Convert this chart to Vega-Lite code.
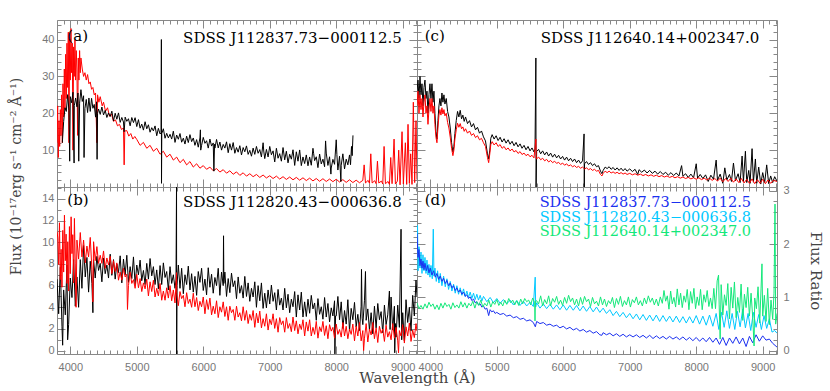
{
"$schema": "https://vega.github.io/schema/vega-lite/v6.json",
"padding": {"left": 8, "top": 18, "right": 4, "bottom": 4},
"background": "white",
"config": {
 "view": {"stroke": "#888", "strokeWidth": 1},
 "axis": {"domain": false, "grid": false, "tickColor": "#888", "tickWidth": 1, "labelColor": "#777", "labelFont": "Liberation Sans", "labelFontSize": 11, "titleFont": "DejaVu Serif", "titleFontWeight": "normal", "titleFontSize": 14, "titleColor": "#444", "labelOverlap": false, "labelFlush": false, "labelBound": false},
 "text": {"font": "DejaVu Serif", "fontSize": 15}
},
"datasets": {
"ar": [{"w":3800,"f":12},{"w":3810,"f":22},{"w":3820,"f":8},{"w":3830,"f":18},{"w":3840,"f":11},{"w":3850,"f":21},{"w":3860,"f":14},{"w":3870,"f":25},{"w":3880,"f":12},{"w":3890,"f":28},{"w":3900,"f":19},{"w":3910,"f":32},{"w":3920,"f":21},{"w":3930,"f":36},{"w":3940,"f":24},{"w":3950,"f":39},{"w":3960,"f":27},{"w":3970,"f":42},{"w":3980,"f":12},{"w":3990,"f":40},{"w":4000,"f":29},{"w":4010,"f":43},{"w":4020,"f":31},{"w":4030,"f":39},{"w":4040,"f":10},{"w":4050,"f":38},{"w":4060,"f":30},{"w":4070,"f":40},{"w":4080,"f":29},{"w":4090,"f":37},{"w":4100,"f":32},{"w":4110,"f":14},{"w":4120,"f":35},{"w":4130,"f":29},{"w":4140,"f":37},{"w":4150,"f":31},{"w":4160,"f":35},{"w":4180,"f":32},{"w":4200,"f":30},{"w":4220,"f":31},{"w":4240,"f":29},{"w":4260,"f":30.5},{"w":4280,"f":28},{"w":4300,"f":28.5},{"w":4320,"f":26.5},{"w":4340,"f":27},{"w":4360,"f":25},{"w":4380,"f":25.5},{"w":4400,"f":12},{"w":4410,"f":25},{"w":4430,"f":23},{"w":4450,"f":24.5},{"w":4480,"f":22},{"w":4500,"f":23},{"w":4530,"f":20.5},{"w":4560,"f":21.5},{"w":4590,"f":19.2},{"w":4620,"f":19.8},{"w":4650,"f":17.8},{"w":4680,"f":18.2},{"w":4710,"f":16.6},{"w":4740,"f":17},{"w":4770,"f":15.6},{"w":4800,"f":16},{"w":4810,"f":6},{"w":4820,"f":15.2},{"w":4850,"f":15.3},{"w":4880,"f":13.8},{"w":4910,"f":14.5},{"w":4940,"f":13},{"w":4970,"f":13.7},{"w":5000,"f":12.9},{"w":5050,"f":11.3},{"w":5100,"f":12.1},{"w":5150,"f":10.5},{"w":5200,"f":11.3},{"w":5250,"f":9.7},{"w":5300,"f":10.5},{"w":5350,"f":8.9},{"w":5400,"f":9.7},{"w":5450,"f":8.1},{"w":5500,"f":8.9},{"w":5550,"f":7.3},{"w":5600,"f":8.1},{"w":5650,"f":6.6},{"w":5700,"f":7.5},{"w":5750,"f":6.0},{"w":5800,"f":6.9},{"w":5850,"f":5.4},{"w":5900,"f":6.3},{"w":5950,"f":5.1},{"w":6000,"f":5.8},{"w":6050,"f":4.8},{"w":6100,"f":5.4},{"w":6150,"f":4.4},{"w":6200,"f":5.0},{"w":6250,"f":4.05},{"w":6300,"f":4.7},{"w":6350,"f":3.75},{"w":6400,"f":4.4},{"w":6450,"f":3.45},{"w":6500,"f":4.1},{"w":6550,"f":3.15},{"w":6600,"f":3.85},{"w":6650,"f":2.95},{"w":6700,"f":3.6},{"w":6750,"f":2.8},{"w":6800,"f":3.4},{"w":6850,"f":2.6},{"w":6900,"f":3.25},{"w":6950,"f":2.45},{"w":7000,"f":3.05},{"w":7050,"f":2.3},{"w":7100,"f":2.95},{"w":7150,"f":2.15},{"w":7200,"f":2.8},{"w":7250,"f":2.05},{"w":7300,"f":2.7},{"w":7350,"f":1.95},{"w":7400,"f":2.6},{"w":7450,"f":1.85},{"w":7500,"f":2.5},{"w":7550,"f":1.75},{"w":7600,"f":2.4},{"w":7650,"f":1.65},{"w":7700,"f":2.3},{"w":7750,"f":1.55},{"w":7800,"f":2.25},{"w":7850,"f":1.5},{"w":7900,"f":2.15},{"w":7950,"f":1.45},{"w":8000,"f":2.1},{"w":8050,"f":1.35},{"w":8100,"f":2.0},{"w":8150,"f":1.25},{"w":8200,"f":1.95},{"w":8250,"f":1.2},{"w":8300,"f":1.85},{"w":8350,"f":1.15},{"w":8400,"f":1.8},{"w":8420,"f":6},{"w":8440,"f":1.1},{"w":8480,"f":1.8},{"w":8500,"f":1.0},{"w":8520,"f":9},{"w":8540,"f":1.1},{"w":8580,"f":1.7},{"w":8600,"f":0.9},{"w":8620,"f":7},{"w":8640,"f":1.1},{"w":8680,"f":1.6},{"w":8700,"f":0.8},{"w":8720,"f":11},{"w":8740,"f":0.9},{"w":8780,"f":1.5},{"w":8800,"f":0.7},{"w":8820,"f":8},{"w":8840,"f":0.9},{"w":8870,"f":13},{"w":8890,"f":0.8},{"w":8920,"f":1.6},{"w":8940,"f":10},{"w":8960,"f":0.6},{"w":8990,"f":15},{"w":9010,"f":0.8},{"w":9040,"f":12},{"w":9060,"f":0.7},{"w":9080,"f":17},{"w":9100,"f":1},{"w":9120,"f":9},{"w":9140,"f":0.7},{"w":9160,"f":23},{"w":9180,"f":1.2},{"w":9200,"f":18},{"w":9215,"f":2}],
"ak": [{"w":3880,"f":12},{"w":3900,"f":17.75},{"w":3920,"f":21.5},{"w":3940,"f":20.5},{"w":3960,"f":25.05},{"w":3980,"f":20.7},{"w":3991,"f":7},{"w":4000,"f":24.5},{"w":4020,"f":22.85},{"w":4040,"f":25.7},{"w":4057,"f":6.5},{"w":4060,"f":22.05},{"w":4080,"f":24.15},{"w":4100,"f":21.75},{"w":4115,"f":25.5},{"w":4127,"f":7},{"w":4140,"f":22.75},{"w":4160,"f":26.4},{"w":4180,"f":23.2},{"w":4200,"f":24.75},{"w":4207,"f":8},{"w":4220,"f":21.3},{"w":4240,"f":23.75},{"w":4260,"f":20.2},{"w":4280,"f":24.15},{"w":4300,"f":20.5},{"w":4320,"f":24.05},{"w":4340,"f":21.35},{"w":4360,"f":22.4},{"w":4380,"f":18.95},{"w":4395,"f":23.1},{"w":4403,"f":7.5},{"w":4410,"f":20},{"w":4425,"f":21.16},{"w":4450,"f":19.7},{"w":4475,"f":21.7},{"w":4500,"f":19.55},{"w":4525,"f":20.78},{"w":4550,"f":18.86},{"w":4575,"f":20.09},{"w":4600,"f":19.11},{"w":4625,"f":20.57},{"w":4650,"f":17.9},{"w":4675,"f":20.01},{"w":4700,"f":18.38},{"w":4725,"f":20.1},{"w":4750,"f":17.53},{"w":4775,"f":18.86},{"w":4800,"f":17.62},{"w":4810,"f":15},{"w":4825,"f":18.95},{"w":4850,"f":17.81},{"w":4875,"f":18.52},{"w":4900,"f":16.6},{"w":4925,"f":18.84},{"w":4950,"f":17.47},{"w":4975,"f":18.8},{"w":5000,"f":16.39},{"w":5025,"f":18.27},{"w":5050,"f":15.96},{"w":5075,"f":17.06},{"w":5100,"f":15.43},{"w":5125,"f":17.7},{"w":5150,"f":15.78},{"w":5175,"f":16.88},{"w":5200,"f":14.86},{"w":5225,"f":16.09},{"w":5250,"f":15.21},{"w":5275,"f":16.57},{"w":5300,"f":13.9},{"w":5325,"f":15.91},{"w":5350,"f":14.38},{"w":5365,"f":14.7},{"w":5370,"f":40},{"w":5372,"f":1},{"w":5376,"f":14.5},{"w":5400,"f":15.8},{"w":5425,"f":13.23},{"w":5450,"f":14.56},{"w":5475,"f":13.32},{"w":5500,"f":14.3},{"w":5525,"f":13.0},{"w":5550,"f":15.15},{"w":5575,"f":12.1},{"w":5600,"f":14.1},{"w":5625,"f":12.95},{"w":5650,"f":14.5},{"w":5675,"f":12.15},{"w":5700,"f":13.25},{"w":5725,"f":11.65},{"w":5750,"f":13.8},{"w":5775,"f":12.05},{"w":5800,"f":14.2},{"w":5825,"f":12.3},{"w":5850,"f":13.3},{"w":5875,"f":11.3},{"w":5900,"f":12.85},{"w":5925,"f":10.8},{"w":5950,"f":13.3},{"w":5957,"f":15.5},{"w":5962,"f":10},{"w":5975,"f":11.3},{"w":6000,"f":13.45},{"w":6025,"f":11.85},{"w":6050,"f":12.55},{"w":6075,"f":10.55},{"w":6100,"f":13.0},{"w":6125,"f":11.1},{"w":6150,"f":11.95},{"w":6160,"f":4.3},{"w":6170,"f":11.6},{"w":6175,"f":10.55},{"w":6200,"f":12.9},{"w":6225,"f":10.6},{"w":6250,"f":12.2},{"w":6275,"f":10.0},{"w":6300,"f":11.55},{"w":6325,"f":10.55},{"w":6350,"f":12.25},{"w":6375,"f":9.3},{"w":6400,"f":11.75},{"w":6425,"f":10.0},{"w":6450,"f":12.05},{"w":6475,"f":9.15},{"w":6500,"f":10.7},{"w":6525,"f":9.45},{"w":6550,"f":11.2},{"w":6575,"f":8.7},{"w":6600,"f":10.7},{"w":6625,"f":9.55},{"w":6650,"f":11.15},{"w":6675,"f":8.85},{"w":6700,"f":9.95},{"w":6725,"f":8.35},{"w":6750,"f":10.55},{"w":6775,"f":8.85},{"w":6800,"f":11.0},{"w":6825,"f":9.15},{"w":6850,"f":10.15},{"w":6875,"f":8.15},{"w":6900,"f":12},{"w":6910,"f":9.75},{"w":6925,"f":7.7},{"w":6950,"f":10.2},{"w":6975,"f":8.15},{"w":7000,"f":11.0},{"w":7025,"f":8.75},{"w":7050,"f":9.8},{"w":7075,"f":6.8},{"w":7100,"f":10.5},{"w":7125,"f":7.8},{"w":7150,"f":9.05},{"w":7175,"f":7.0},{"w":7200,"f":10.7},{"w":7225,"f":7.35},{"w":7250,"f":9.7},{"w":7275,"f":6.55},{"w":7300,"f":8.9},{"w":7325,"f":7.55},{"w":7350,"f":10.1},{"w":7375,"f":5.85},{"w":7400,"f":9.55},{"w":7425,"f":7.0},{"w":7450,"f":10.05},{"w":7475,"f":5.8},{"w":7500,"f":8.15},{"w":7525,"f":6.35},{"w":7550,"f":8.7},{"w":7575,"f":5.75},{"w":7600,"f":8.15},{"w":7625,"f":5.9},{"w":7650,"f":10.5},{"w":7660,"f":9.15},{"w":7675,"f":7.15},{"w":7700,"f":8.2},{"w":7725,"f":5.25},{"w":7750,"f":8.95},{"w":7775,"f":6.25},{"w":7800,"f":7.55},{"w":7825,"f":5.5},{"w":7840,"f":12.5},{"w":7850,"f":9.2},{"w":7875,"f":5.85},{"w":7900,"f":8.2},{"w":7920,"f":3.5},{"w":7925,"f":5.15},{"w":7950,"f":7.5},{"w":7975,"f":6.15},{"w":8000,"f":12.8},{"w":8010,"f":8.8},{"w":8025,"f":4.6},{"w":8050,"f":8.35},{"w":8070,"f":1.5},{"w":8075,"f":5.9},{"w":8100,"f":9.0},{"w":8125,"f":4.9},{"w":8150,"f":7.55},{"w":8175,"f":6.0},{"w":8200,"f":8.7},{"w":8215,"f":6.05},{"w":8230,"f":11},{"w":8240,"f":8.5},{"w":8252,"f":14}],
"ck": [{"w":3800,"f":26},{"w":3815,"f":29},{"w":3830,"f":24},{"w":3845,"f":30},{"w":3860,"f":25},{"w":3875,"f":28},{"w":3890,"f":22},{"w":3905,"f":27},{"w":3920,"f":29},{"w":3935,"f":24},{"w":3950,"f":26},{"w":3965,"f":20},{"w":3980,"f":25},{"w":3995,"f":28},{"w":4010,"f":24},{"w":4025,"f":28},{"w":4040,"f":23},{"w":4055,"f":26},{"w":4070,"f":20},{"w":4085,"f":15},{"w":4100,"f":13},{"w":4115,"f":18},{"w":4130,"f":22},{"w":4145,"f":24},{"w":4160,"f":22},{"w":4175,"f":25.5},{"w":4190,"f":23},{"w":4205,"f":25},{"w":4220,"f":22.5},{"w":4240,"f":24},{"w":4260,"f":20.5},{"w":4280,"f":19},{"w":4300,"f":16},{"w":4320,"f":12},{"w":4340,"f":9.5},{"w":4355,"f":11},{"w":4370,"f":14.5},{"w":4390,"f":18},{"w":4410,"f":20.5},{"w":4430,"f":19},{"w":4450,"f":20.8},{"w":4470,"f":18.5},{"w":4490,"f":19.5},{"w":4510,"f":17.8},{"w":4530,"f":19},{"w":4560,"f":17.2},{"w":4590,"f":18},{"w":4620,"f":16.3},{"w":4650,"f":17.2},{"w":4680,"f":15.5},{"w":4710,"f":16.2},{"w":4740,"f":14.6},{"w":4770,"f":15.2},{"w":4800,"f":13.6},{"w":4830,"f":12.5},{"w":4860,"f":9},{"w":4878,"f":7.6},{"w":4895,"f":10},{"w":4910,"f":13.2},{"w":4930,"f":14.2},{"w":4960,"f":13},{"w":4990,"f":13.9},{"w":5020,"f":12.6},{"w":5050,"f":13.5},{"w":5080,"f":12.2},{"w":5110,"f":13.1},{"w":5140,"f":11.9},{"w":5170,"f":12.8},{"w":5200,"f":11.6},{"w":5230,"f":12.4},{"w":5260,"f":11.2},{"w":5290,"f":12.1},{"w":5320,"f":10.9},{"w":5350,"f":11.7},{"w":5380,"f":10.5},{"w":5410,"f":11.3},{"w":5440,"f":10.1},{"w":5470,"f":11},{"w":5500,"f":9.8},{"w":5530,"f":10.6},{"w":5560,"f":9.5},{"w":5575,"f":10.3},{"w":5588,"f":35},{"w":5591,"f":0},{"w":5600,"f":9.7},{"w":5630,"f":10.2},{"w":5660,"f":9},{"w":5690,"f":9.8},{"w":5720,"f":8.7},{"w":5750,"f":9.5},{"w":5780,"f":8.4},{"w":5810,"f":9.2},{"w":5840,"f":8.1},{"w":5870,"f":8.9},{"w":5900,"f":7.9},{"w":5930,"f":8.6},{"w":5960,"f":7.6},{"w":5990,"f":8.3},{"w":6020,"f":7.3},{"w":6050,"f":8.1},{"w":6080,"f":7.1},{"w":6110,"f":7.8},{"w":6140,"f":6.9},{"w":6170,"f":7.6},{"w":6200,"f":6.6},{"w":6230,"f":7.3},{"w":6260,"f":6.4},{"w":6290,"f":7.1},{"w":6313,"f":14.4},{"w":6316,"f":0},{"w":6320,"f":6.3},{"w":6350,"f":6.9},{"w":6380,"f":6.1},{"w":6410,"f":6.6},{"w":6440,"f":5.8},{"w":6470,"f":6.3},{"w":6500,"f":5.5},{"w":6530,"f":5.8},{"w":6560,"f":4.3},{"w":6582,"f":3.6},{"w":6600,"f":4.5},{"w":6630,"f":5.4},{"w":6660,"f":5.0},{"w":6690,"f":5.5},{"w":6720,"f":4.8},{"w":6750,"f":5.3},{"w":6780,"f":4.6},{"w":6810,"f":5.2},{"w":6840,"f":4.5},{"w":6870,"f":5.1},{"w":6900,"f":4.4},{"w":6930,"f":5.0},{"w":6960,"f":4.3},{"w":7000,"f":4.9},{"w":7040,"f":4.2},{"w":7080,"f":4.8},{"w":7120,"f":3.4},{"w":7140,"f":4.7},{"w":7180,"f":4.0},{"w":7220,"f":4.6},{"w":7260,"f":3.8},{"w":7300,"f":4.5},{"w":7340,"f":3.7},{"w":7380,"f":4.3},{"w":7420,"f":3.5},{"w":7460,"f":4.2},{"w":7500,"f":3.4},{"w":7540,"f":4.0},{"w":7580,"f":3.2},{"w":7620,"f":3.9},{"w":7660,"f":3.1},{"w":7700,"f":3.8},{"w":7740,"f":3.0},{"w":7780,"f":5.8},{"w":7800,"f":2.9},{"w":7840,"f":3.6},{"w":7880,"f":2.6},{"w":7920,"f":3.5},{"w":7960,"f":2.5},{"w":8000,"f":6.3},{"w":8020,"f":2.4},{"w":8060,"f":3.4},{"w":8100,"f":2.3},{"w":8140,"f":3.3},{"w":8180,"f":1.5},{"w":8220,"f":3.2},{"w":8260,"f":2.1},{"w":8300,"f":7.3},{"w":8320,"f":1.8},{"w":8360,"f":3.5},{"w":8400,"f":1.0},{"w":8430,"f":5.2},{"w":8460,"f":1.9},{"w":8500,"f":3.4},{"w":8530,"f":1.5},{"w":8560,"f":6.5},{"w":8590,"f":1.7},{"w":8630,"f":3.6},{"w":8660,"f":1.2},{"w":8690,"f":8.4},{"w":8710,"f":1.5},{"w":8740,"f":9.7},{"w":8760,"f":1.2},{"w":8790,"f":4.5},{"w":8810,"f":1.0},{"w":8840,"f":10.4},{"w":8860,"f":1.3},{"w":8890,"f":7.6},{"w":8910,"f":1.0},{"w":8940,"f":5.4},{"w":8970,"f":0.8},{"w":9000,"f":3.9},{"w":9030,"f":1.2},{"w":9060,"f":6.0},{"w":9090,"f":0.9},{"w":9120,"f":3.0},{"w":9150,"f":1.2},{"w":9180,"f":2.8},{"w":9215,"f":1.6}],
"cr": [{"w":3800,"f":22},{"w":3815,"f":26},{"w":3830,"f":20},{"w":3845,"f":25},{"w":3860,"f":21},{"w":3875,"f":24},{"w":3890,"f":19},{"w":3905,"f":23},{"w":3920,"f":25},{"w":3935,"f":20},{"w":3950,"f":22},{"w":3965,"f":17},{"w":3980,"f":21},{"w":3995,"f":24},{"w":4010,"f":20.5},{"w":4025,"f":24},{"w":4040,"f":20},{"w":4055,"f":22},{"w":4070,"f":17},{"w":4085,"f":13.5},{"w":4100,"f":12},{"w":4115,"f":16},{"w":4130,"f":19.5},{"w":4145,"f":21},{"w":4160,"f":19.5},{"w":4175,"f":21.5},{"w":4190,"f":19.8},{"w":4205,"f":21},{"w":4220,"f":19.3},{"w":4240,"f":20},{"w":4260,"f":17.5},{"w":4280,"f":16},{"w":4300,"f":13.5},{"w":4320,"f":10.5},{"w":4340,"f":8.5},{"w":4355,"f":10},{"w":4370,"f":13},{"w":4390,"f":15.5},{"w":4410,"f":17.3},{"w":4430,"f":16.2},{"w":4450,"f":17.2},{"w":4470,"f":15.8},{"w":4490,"f":16.3},{"w":4510,"f":15.1},{"w":4530,"f":15.8},{"w":4560,"f":14.6},{"w":4590,"f":15.2},{"w":4620,"f":14},{"w":4650,"f":14.5},{"w":4680,"f":13.4},{"w":4710,"f":13.9},{"w":4740,"f":12.8},{"w":4770,"f":13.2},{"w":4800,"f":12},{"w":4830,"f":11},{"w":4860,"f":8},{"w":4878,"f":6.6},{"w":4895,"f":9},{"w":4910,"f":11.5},{"w":4930,"f":12.3},{"w":4960,"f":11.4},{"w":4990,"f":12},{"w":5020,"f":11},{"w":5050,"f":11.5},{"w":5080,"f":10.5},{"w":5110,"f":11},{"w":5140,"f":10.1},{"w":5170,"f":10.6},{"w":5200,"f":9.8},{"w":5230,"f":10.3},{"w":5260,"f":9.5},{"w":5290,"f":9.9},{"w":5320,"f":9.1},{"w":5350,"f":9.6},{"w":5380,"f":8.8},{"w":5410,"f":9.2},{"w":5440,"f":8.5},{"w":5470,"f":8.9},{"w":5500,"f":8.2},{"w":5530,"f":8.6},{"w":5560,"f":7.9},{"w":5588,"f":13},{"w":5595,"f":7.6},{"w":5630,"f":8.1},{"w":5660,"f":7.4},{"w":5690,"f":7.8},{"w":5720,"f":7.1},{"w":5750,"f":7.5},{"w":5780,"f":6.8},{"w":5810,"f":7.2},{"w":5840,"f":6.6},{"w":5870,"f":7.0},{"w":5900,"f":6.4},{"w":5930,"f":6.7},{"w":5960,"f":6.1},{"w":5990,"f":6.5},{"w":6020,"f":5.9},{"w":6050,"f":6.3},{"w":6080,"f":5.7},{"w":6110,"f":6.0},{"w":6140,"f":5.5},{"w":6170,"f":5.8},{"w":6200,"f":5.3},{"w":6230,"f":5.6},{"w":6260,"f":5.1},{"w":6290,"f":5.4},{"w":6320,"f":4.9},{"w":6350,"f":5.2},{"w":6380,"f":4.7},{"w":6410,"f":5.0},{"w":6440,"f":4.5},{"w":6470,"f":4.8},{"w":6500,"f":4.3},{"w":6530,"f":4.5},{"w":6560,"f":3.4},{"w":6582,"f":3.0},{"w":6600,"f":3.7},{"w":6630,"f":4.3},{"w":6660,"f":3.9},{"w":6690,"f":4.3},{"w":6720,"f":3.8},{"w":6750,"f":4.1},{"w":6780,"f":3.7},{"w":6810,"f":4.0},{"w":6840,"f":3.6},{"w":6870,"f":3.9},{"w":6900,"f":3.5},{"w":6930,"f":3.8},{"w":6960,"f":3.4},{"w":7000,"f":3.7},{"w":7040,"f":3.3},{"w":7080,"f":3.6},{"w":7120,"f":3.2},{"w":7160,"f":3.5},{"w":7200,"f":3.1},{"w":7240,"f":3.4},{"w":7280,"f":3.0},{"w":7320,"f":3.3},{"w":7360,"f":2.9},{"w":7400,"f":3.2},{"w":7440,"f":2.8},{"w":7480,"f":3.1},{"w":7520,"f":2.7},{"w":7560,"f":3.0},{"w":7600,"f":2.6},{"w":7640,"f":2.9},{"w":7680,"f":2.5},{"w":7720,"f":2.8},{"w":7760,"f":2.4},{"w":7800,"f":2.7},{"w":7840,"f":2.3},{"w":7880,"f":2.6},{"w":7920,"f":2.2},{"w":7960,"f":2.5},{"w":8000,"f":2.1},{"w":8040,"f":2.5},{"w":8080,"f":2.0},{"w":8120,"f":2.4},{"w":8160,"f":1.9},{"w":8200,"f":2.4},{"w":8240,"f":1.8},{"w":8280,"f":2.3},{"w":8320,"f":1.6},{"w":8360,"f":2.4},{"w":8400,"f":1.4},{"w":8440,"f":2.3},{"w":8480,"f":1.5},{"w":8520,"f":2.4},{"w":8560,"f":1.3},{"w":8600,"f":2.2},{"w":8640,"f":1.2},{"w":8680,"f":2.3},{"w":8720,"f":1.1},{"w":8760,"f":2.1},{"w":8800,"f":1.0},{"w":8840,"f":2.2},{"w":8880,"f":0.9},{"w":8920,"f":2.0},{"w":8960,"f":1.0},{"w":9000,"f":2.1},{"w":9040,"f":0.9},{"w":9080,"f":1.9},{"w":9120,"f":1.0},{"w":9160,"f":1.8},{"w":9215,"f":1.5}],
"bk": [{"w":3800,"f":6.6},{"w":3825,"f":3.4},{"w":3850,"f":7.7},{"w":3875,"f":2.2},{"w":3885,"f":0.5},{"w":3900,"f":5.6},{"w":3925,"f":3.3},{"w":3950,"f":7.9},{"w":3960,"f":1.0},{"w":3975,"f":2.4},{"w":4000,"f":6.7},{"w":4025,"f":4.9},{"w":4050,"f":8.4},{"w":4075,"f":4.1},{"w":4100,"f":6.8},{"w":4125,"f":4.0},{"w":4150,"f":8.4},{"w":4175,"f":5.75},{"w":4200,"f":9.7},{"w":4225,"f":6.8},{"w":4250,"f":8.6},{"w":4275,"f":5.4},{"w":4300,"f":8.25},{"w":4325,"f":6.2},{"w":4340,"f":3.5},{"w":4350,"f":8.4},{"w":4375,"f":6.7},{"w":4400,"f":8.7},{"w":4425,"f":7.4},{"w":4450,"f":8.05},{"w":4475,"f":6.35},{"w":4500,"f":8.55},{"w":4525,"f":7.1},{"w":4550,"f":7.9},{"w":4575,"f":6.7},{"w":4600,"f":8.9},{"w":4625,"f":6.95},{"w":4650,"f":8.4},{"w":4675,"f":6.6},{"w":4700,"f":8.0},{"w":4725,"f":7.2},{"w":4750,"f":8.75},{"w":4775,"f":6.25},{"w":4800,"f":8.45},{"w":4825,"f":7.0},{"w":4850,"f":8.8},{"w":4875,"f":6.3},{"w":4900,"f":7.75},{"w":4925,"f":6.65},{"w":4950,"f":8.65},{"w":4975,"f":6.1},{"w":5000,"f":7.9},{"w":5025,"f":7.0},{"w":5050,"f":8.35},{"w":5075,"f":6.45},{"w":5100,"f":7.4},{"w":5125,"f":6.1},{"w":5150,"f":8.05},{"w":5175,"f":6.6},{"w":5200,"f":8.5},{"w":5225,"f":6.9},{"w":5250,"f":7.75},{"w":5275,"f":6.1},{"w":5300,"f":7.45},{"w":5325,"f":5.7},{"w":5350,"f":7.85},{"w":5375,"f":6.1},{"w":5400,"f":8.1},{"w":5425,"f":6.75},{"w":5450,"f":7.3},{"w":5475,"f":5.6},{"w":5500,"f":7.75},{"w":5525,"f":6.2},{"w":5550,"f":7.0},{"w":5575,"f":5.75},{"w":5590,"f":6.5},{"w":5598,"f":15.5},{"w":5600,"f":-0.4},{"w":5605,"f":6},{"w":5625,"f":7.9},{"w":5650,"f":5.75},{"w":5675,"f":7.6},{"w":5700,"f":5.25},{"w":5725,"f":7.0},{"w":5750,"f":6.1},{"w":5775,"f":7.8},{"w":5800,"f":5.6},{"w":5825,"f":7.1},{"w":5850,"f":5.4},{"w":5875,"f":6.85},{"w":5900,"f":5.1},{"w":5925,"f":7.3},{"w":5950,"f":6.3},{"w":5975,"f":7.6},{"w":6000,"f":5.55},{"w":6025,"f":6.6},{"w":6050,"f":5.15},{"w":6075,"f":7.65},{"w":6100,"f":5.85},{"w":6125,"f":7.05},{"w":6150,"f":5.3},{"w":6175,"f":6.75},{"w":6200,"f":6.0},{"w":6225,"f":7.6},{"w":6250,"f":5.1},{"w":6275,"f":7.25},{"w":6300,"f":6.0},{"w":6305,"f":10.6},{"w":6310,"f":6.2},{"w":6325,"f":7.25},{"w":6350,"f":5.0},{"w":6375,"f":6.65},{"w":6400,"f":5.35},{"w":6425,"f":7.15},{"w":6450,"f":5.9},{"w":6475,"f":6.45},{"w":6500,"f":4.8},{"w":6525,"f":6.8},{"w":6550,"f":5.3},{"w":6575,"f":6.0},{"w":6600,"f":4.85},{"w":6625,"f":6.85},{"w":6650,"f":5.0},{"w":6675,"f":6.25},{"w":6700,"f":4.55},{"w":6725,"f":5.75},{"w":6750,"f":4.95},{"w":6775,"f":6.35},{"w":6800,"f":4.0},{"w":6825,"f":6.0},{"w":6850,"f":4.6},{"w":6875,"f":6.25},{"w":6900,"f":3.9},{"w":6925,"f":5.3},{"w":6950,"f":3.95},{"w":6975,"f":5.6},{"w":7000,"f":4.3},{"w":7025,"f":6.05},{"w":7050,"f":4.55},{"w":7075,"f":5.35},{"w":7100,"f":3.75},{"w":7125,"f":5.65},{"w":7150,"f":4.2},{"w":7175,"f":4.85},{"w":7200,"f":3.75},{"w":7225,"f":5.75},{"w":7250,"f":3.95},{"w":7275,"f":5.2},{"w":7300,"f":3.5},{"w":7325,"f":4.75},{"w":7350,"f":4.05},{"w":7375,"f":5.45},{"w":7400,"f":3.1},{"w":7425,"f":5.15},{"w":7450,"f":3.75},{"w":7475,"f":5.4},{"w":7500,"f":3.1},{"w":7525,"f":4.5},{"w":7550,"f":3.15},{"w":7575,"f":4.75},{"w":7600,"f":3.45},{"w":7625,"f":5.1},{"w":7650,"f":3.85},{"w":7675,"f":4.4},{"w":7700,"f":2.8},{"w":7725,"f":4.8},{"w":7750,"f":3.35},{"w":7775,"f":4.05},{"w":7800,"f":2.9},{"w":7825,"f":4.9},{"w":7850,"f":3.1},{"w":7875,"f":4.35},{"w":7900,"f":2.65},{"w":7925,"f":3.95},{"w":7950,"f":3.2},{"w":7975,"f":4.6},{"w":7980,"f":-0.3},{"w":7990,"f":3.2},{"w":8000,"f":3.2},{"w":8025,"f":5.0},{"w":8050,"f":2.85},{"w":8075,"f":4.5},{"w":8100,"f":2.05},{"w":8125,"f":3.7},{"w":8150,"f":2.45},{"w":8175,"f":4.7},{"w":8200,"f":1.8},{"w":8225,"f":3.9},{"w":8250,"f":2.85},{"w":8275,"f":4.45},{"w":8300,"f":2.2},{"w":8325,"f":3.35},{"w":8350,"f":1.85},{"w":8375,"f":4.1},{"w":8380,"f":7.5},{"w":8390,"f":3.0},{"w":8400,"f":2.4},{"w":8425,"f":4.65},{"w":8440,"f":7.3},{"w":8450,"f":2.8},{"w":8475,"f":3.85},{"w":8500,"f":1.9},{"w":8525,"f":3.5},{"w":8550,"f":1.55},{"w":8575,"f":4.1},{"w":8600,"f":2.1},{"w":8625,"f":4.35},{"w":8650,"f":2.85},{"w":8675,"f":3.6},{"w":8700,"f":1.65},{"w":8725,"f":4.2},{"w":8750,"f":2.4},{"w":8775,"f":3.3},{"w":8800,"f":5.5},{"w":8810,"f":1.95},{"w":8825,"f":4.95},{"w":8850,"f":1.9},{"w":8875,"f":4.1},{"w":8880,"f":-0.2},{"w":8890,"f":2.5},{"w":8900,"f":1.25},{"w":8925,"f":4.2},{"w":8950,"f":2.15},{"w":8975,"f":11.2},{"w":8985,"f":1.0},{"w":9000,"f":3.5},{"w":9025,"f":0.9},{"w":9050,"f":4.7},{"w":9075,"f":2.6},{"w":9100,"f":4.0},{"w":9125,"f":1.8},{"w":9150,"f":5.1},{"w":9175,"f":3.2},{"w":9200,"f":6.5},{"w":9215,"f":5}],
"br": [{"w":3800,"f":11},{"w":3812,"f":10.4},{"w":3825,"f":7.95},{"w":3837,"f":11.8},{"w":3850,"f":6.55},{"w":3862,"f":9.35},{"w":3875,"f":5.85},{"w":3887,"f":11.1},{"w":3900,"f":7.25},{"w":3912,"f":12.5},{"w":3925,"f":8.3},{"w":3937,"f":10.75},{"w":3950,"f":6.2},{"w":3962,"f":10.05},{"w":3975,"f":5.5},{"w":3987,"f":11.45},{"w":4000,"f":7.1},{"w":4012,"f":12.35},{"w":4025,"f":8.95},{"w":4037,"f":10.7},{"w":4050,"f":6.25},{"w":4062,"f":12.2},{"w":4075,"f":8.0},{"w":4087,"f":4.0},{"w":4100,"f":10.2},{"w":4125,"f":8.45},{"w":4150,"f":10.9},{"w":4175,"f":8.65},{"w":4200,"f":10.2},{"w":4225,"f":8.1},{"w":4250,"f":9.65},{"w":4275,"f":8.65},{"w":4300,"f":10.45},{"w":4325,"f":7.5},{"w":4340,"f":4.5},{"w":4350,"f":10.05},{"w":4375,"f":8.3},{"w":4400,"f":9.6},{"w":4425,"f":8.05},{"w":4450,"f":8.8},{"w":4475,"f":8.05},{"w":4500,"f":9.2},{"w":4525,"f":7.6},{"w":4550,"f":8.55},{"w":4575,"f":7.9},{"w":4600,"f":8.7},{"w":4625,"f":7.1},{"w":4650,"f":8.3},{"w":4675,"f":7.3},{"w":4700,"f":8.1},{"w":4725,"f":6.5},{"w":4750,"f":7.25},{"w":4775,"f":6.5},{"w":4800,"f":7.6},{"w":4825,"f":6.8},{"w":4850,"f":7.05},{"w":4860,"f":3.8},{"w":4875,"f":6.0},{"w":4900,"f":7.25},{"w":4925,"f":6.2},{"w":4950,"f":6.55},{"w":4975,"f":5.75},{"w":5000,"f":7.05},{"w":5025,"f":5.8},{"w":5050,"f":6.65},{"w":5075,"f":5.45},{"w":5100,"f":6.25},{"w":5125,"f":5.7},{"w":5150,"f":6.6},{"w":5175,"f":5.05},{"w":5200,"f":6.35},{"w":5225,"f":5.45},{"w":5250,"f":6.5},{"w":5275,"f":4.95},{"w":5300,"f":5.75},{"w":5325,"f":5.05},{"w":5350,"f":6.2},{"w":5375,"f":4.65},{"w":5400,"f":5.5},{"w":5425,"f":4.65},{"w":5450,"f":5.8},{"w":5475,"f":4.85},{"w":5500,"f":6.0},{"w":5525,"f":4.6},{"w":5550,"f":5.6},{"w":5575,"f":4.4},{"w":5598,"f":7.2},{"w":5600,"f":5.3},{"w":5625,"f":4.15},{"w":5650,"f":5.45},{"w":5675,"f":4.8},{"w":5700,"f":5.1},{"w":5725,"f":4.05},{"w":5750,"f":5.35},{"w":5775,"f":4.35},{"w":5800,"f":4.75},{"w":5825,"f":4.0},{"w":5850,"f":5.3},{"w":5875,"f":4.05},{"w":5900,"f":4.9},{"w":5925,"f":3.7},{"w":5950,"f":4.55},{"w":5975,"f":4.05},{"w":6000,"f":4.95},{"w":6025,"f":3.4},{"w":6050,"f":4.7},{"w":6075,"f":3.8},{"w":6100,"f":4.85},{"w":6125,"f":3.3},{"w":6150,"f":4.1},{"w":6175,"f":3.4},{"w":6200,"f":4.6},{"w":6225,"f":3.05},{"w":6250,"f":4.05},{"w":6275,"f":3.55},{"w":6300,"f":4.5},{"w":6325,"f":3.15},{"w":6350,"f":4.05},{"w":6375,"f":2.8},{"w":6400,"f":4.1},{"w":6425,"f":3.5},{"w":6450,"f":3.8},{"w":6475,"f":2.8},{"w":6500,"f":4.1},{"w":6525,"f":3.1},{"w":6550,"f":3.5},{"w":6575,"f":2.75},{"w":6600,"f":4.05},{"w":6625,"f":2.8},{"w":6650,"f":3.7},{"w":6675,"f":2.5},{"w":6700,"f":3.35},{"w":6725,"f":2.8},{"w":6750,"f":3.7},{"w":6775,"f":2.15},{"w":6800,"f":3.45},{"w":6825,"f":2.55},{"w":6850,"f":3.65},{"w":6875,"f":2.1},{"w":6900,"f":2.95},{"w":6925,"f":2.25},{"w":6950,"f":3.4},{"w":6975,"f":1.9},{"w":7000,"f":2.9},{"w":7025,"f":2.4},{"w":7050,"f":3.4},{"w":7075,"f":2.05},{"w":7100,"f":2.95},{"w":7125,"f":1.7},{"w":7150,"f":3.05},{"w":7175,"f":2.4},{"w":7200,"f":2.75},{"w":7225,"f":1.7},{"w":7250,"f":3.05},{"w":7275,"f":2.05},{"w":7300,"f":2.5},{"w":7325,"f":1.75},{"w":7350,"f":3.1},{"w":7375,"f":1.85},{"w":7400,"f":2.75},{"w":7425,"f":1.55},{"w":7450,"f":2.45},{"w":7475,"f":1.95},{"w":7500,"f":2.85},{"w":7525,"f":1.35},{"w":7550,"f":2.65},{"w":7575,"f":1.8},{"w":7600,"f":2.85},{"w":7625,"f":1.35},{"w":7650,"f":2.15},{"w":7675,"f":1.5},{"w":7700,"f":2.7},{"w":7725,"f":1.15},{"w":7750,"f":2.2},{"w":7775,"f":1.75},{"w":7800,"f":2.7},{"w":7825,"f":1.4},{"w":7850,"f":2.3},{"w":7875,"f":1.1},{"w":7900,"f":2.4},{"w":7925,"f":1.8},{"w":7950,"f":2.15},{"w":7975,"f":1.15},{"w":8000,"f":2.45},{"w":8025,"f":1.5},{"w":8050,"f":1.95},{"w":8075,"f":1.25},{"w":8100,"f":2.6},{"w":8125,"f":1.35},{"w":8150,"f":2.25},{"w":8175,"f":1.1},{"w":8200,"f":2.0},{"w":8225,"f":1.5},{"w":8250,"f":2.45},{"w":8275,"f":0.9},{"w":8300,"f":2.25},{"w":8325,"f":1.35},{"w":8350,"f":2.6},{"w":8375,"f":0.9},{"w":8400,"f":1.85},{"w":8412,"f":0.0},{"w":8425,"f":1.15},{"w":8450,"f":2.5},{"w":8475,"f":0.8},{"w":8500,"f":2.0},{"w":8525,"f":1.45},{"w":8550,"f":2.6},{"w":8575,"f":1.1},{"w":8600,"f":2.1},{"w":8625,"f":0.75},{"w":8650,"f":2.25},{"w":8675,"f":1.6},{"w":8700,"f":2.0},{"w":8725,"f":0.85},{"w":8750,"f":2.35},{"w":8775,"f":1.25},{"w":8800,"f":1.75},{"w":8825,"f":1.0},{"w":8850,"f":2.5},{"w":8875,"f":1.15},{"w":8900,"f":2.15},{"w":8925,"f":0.9},{"w":8937,"f":-0.2},{"w":8950,"f":1.85},{"w":8975,"f":1.35},{"w":9000,"f":2.4},{"w":9025,"f":0.7},{"w":9050,"f":2.2},{"w":9075,"f":1.35},{"w":9100,"f":2.55},{"w":9125,"f":0.85},{"w":9150,"f":1.9},{"w":9175,"f":1.2},{"w":9200,"f":2.5},{"w":9215,"f":1.8}],
"db": [{"w":3800,"f":2.2},{"w":3815,"f":1.75},{"w":3830,"f":1.9},{"w":3845,"f":1.6},{"w":3860,"f":1.72},{"w":3875,"f":1.55},{"w":3890,"f":1.68},{"w":3905,"f":1.52},{"w":3920,"f":1.64},{"w":3940,"f":1.5},{"w":3960,"f":1.6},{"w":3980,"f":1.46},{"w":4000,"f":1.55},{"w":4025,"f":1.42},{"w":4050,"f":1.5},{"w":4075,"f":1.38},{"w":4100,"f":1.45},{"w":4125,"f":1.34},{"w":4150,"f":1.4},{"w":4175,"f":1.3},{"w":4200,"f":1.36},{"w":4225,"f":1.26},{"w":4250,"f":1.32},{"w":4275,"f":1.22},{"w":4300,"f":1.27},{"w":4325,"f":1.18},{"w":4350,"f":1.22},{"w":4375,"f":1.13},{"w":4400,"f":1.18},{"w":4425,"f":1.1},{"w":4450,"f":1.14},{"w":4475,"f":1.06},{"w":4500,"f":1.1},{"w":4525,"f":1.02},{"w":4550,"f":1.05},{"w":4575,"f":0.98},{"w":4600,"f":1.01},{"w":4625,"f":0.94},{"w":4650,"f":0.97},{"w":4675,"f":0.9},{"w":4700,"f":0.92},{"w":4725,"f":0.86},{"w":4750,"f":0.88},{"w":4775,"f":0.82},{"w":4800,"f":0.84},{"w":4825,"f":0.78},{"w":4850,"f":0.8},{"w":4878,"f":0.66},{"w":4900,"f":0.77},{"w":4925,"f":0.73},{"w":4950,"f":0.75},{"w":4975,"f":0.7},{"w":5000,"f":0.72},{"w":5050,"f":0.68},{"w":5100,"f":0.7},{"w":5150,"f":0.65},{"w":5200,"f":0.67},{"w":5250,"f":0.62},{"w":5300,"f":0.64},{"w":5350,"f":0.59},{"w":5400,"f":0.61},{"w":5450,"f":0.56},{"w":5500,"f":0.58},{"w":5550,"f":0.53},{"w":5580,"f":0.45},{"w":5600,"f":0.55},{"w":5650,"f":0.51},{"w":5700,"f":0.53},{"w":5750,"f":0.48},{"w":5800,"f":0.5},{"w":5850,"f":0.46},{"w":5900,"f":0.48},{"w":5950,"f":0.43},{"w":6000,"f":0.46},{"w":6050,"f":0.41},{"w":6100,"f":0.44},{"w":6150,"f":0.39},{"w":6200,"f":0.42},{"w":6250,"f":0.37},{"w":6300,"f":0.4},{"w":6350,"f":0.35},{"w":6400,"f":0.38},{"w":6450,"f":0.33},{"w":6500,"f":0.36},{"w":6550,"f":0.3},{"w":6580,"f":0.29},{"w":6600,"f":0.34},{"w":6650,"f":0.3},{"w":6700,"f":0.33},{"w":6750,"f":0.28},{"w":6800,"f":0.32},{"w":6850,"f":0.27},{"w":6900,"f":0.31},{"w":6950,"f":0.26},{"w":7000,"f":0.3},{"w":7050,"f":0.26},{"w":7100,"f":0.3},{"w":7150,"f":0.25},{"w":7200,"f":0.29},{"w":7250,"f":0.24},{"w":7300,"f":0.29},{"w":7350,"f":0.23},{"w":7400,"f":0.28},{"w":7450,"f":0.23},{"w":7500,"f":0.27},{"w":7550,"f":0.22},{"w":7600,"f":0.27},{"w":7650,"f":0.22},{"w":7700,"f":0.26},{"w":7750,"f":0.21},{"w":7800,"f":0.26},{"w":7850,"f":0.2},{"w":7900,"f":0.25},{"w":7950,"f":0.19},{"w":8000,"f":0.25},{"w":8050,"f":0.18},{"w":8100,"f":0.24},{"w":8150,"f":0.17},{"w":8200,"f":0.25},{"w":8250,"f":0.16},{"w":8300,"f":0.24},{"w":8350,"f":0.12},{"w":8400,"f":0.25},{"w":8450,"f":0.1},{"w":8500,"f":0.24},{"w":8550,"f":0.14},{"w":8600,"f":0.26},{"w":8650,"f":0.13},{"w":8700,"f":0.24},{"w":8750,"f":0.08},{"w":8800,"f":0.27},{"w":8850,"f":0.15},{"w":8900,"f":0.3},{"w":8950,"f":0.18},{"w":9000,"f":0.28},{"w":9050,"f":0.2},{"w":9100,"f":0.22},{"w":9150,"f":0.14},{"w":9215,"f":0.07}],
"dc": [{"w":3800,"f":1.9},{"w":3808,"f":2.35},{"w":3816,"f":1.5},{"w":3830,"f":1.95},{"w":3845,"f":1.55},{"w":3860,"f":1.85},{"w":3875,"f":1.45},{"w":3890,"f":1.8},{"w":3905,"f":1.5},{"w":3920,"f":1.75},{"w":3935,"f":1.45},{"w":3950,"f":1.7},{"w":3965,"f":1.42},{"w":3980,"f":1.62},{"w":3995,"f":1.38},{"w":4010,"f":1.6},{"w":4030,"f":1.35},{"w":4045,"f":2.28},{"w":4055,"f":1.4},{"w":4070,"f":1.55},{"w":4090,"f":1.3},{"w":4110,"f":1.5},{"w":4130,"f":1.27},{"w":4150,"f":1.45},{"w":4175,"f":1.22},{"w":4200,"f":1.4},{"w":4225,"f":1.2},{"w":4250,"f":1.35},{"w":4275,"f":1.15},{"w":4300,"f":1.3},{"w":4325,"f":1.12},{"w":4350,"f":1.25},{"w":4375,"f":1.08},{"w":4400,"f":1.22},{"w":4425,"f":1.06},{"w":4450,"f":1.18},{"w":4475,"f":1.04},{"w":4500,"f":1.16},{"w":4525,"f":1.02},{"w":4550,"f":1.12},{"w":4575,"f":1.0},{"w":4600,"f":1.1},{"w":4625,"f":0.98},{"w":4650,"f":1.08},{"w":4675,"f":0.96},{"w":4700,"f":1.06},{"w":4725,"f":0.95},{"w":4750,"f":1.04},{"w":4775,"f":0.93},{"w":4800,"f":1.02},{"w":4850,"f":0.92},{"w":4900,"f":1.0},{"w":4950,"f":0.9},{"w":5000,"f":0.98},{"w":5050,"f":0.89},{"w":5100,"f":0.96},{"w":5150,"f":0.88},{"w":5200,"f":0.95},{"w":5250,"f":0.86},{"w":5300,"f":0.94},{"w":5350,"f":0.85},{"w":5400,"f":0.93},{"w":5450,"f":0.84},{"w":5500,"f":0.91},{"w":5550,"f":0.83},{"w":5578,"f":1.38},{"w":5585,"f":0.82},{"w":5600,"f":0.9},{"w":5650,"f":0.8},{"w":5700,"f":0.88},{"w":5750,"f":0.79},{"w":5800,"f":0.87},{"w":5850,"f":0.78},{"w":5900,"f":0.86},{"w":5950,"f":0.77},{"w":6000,"f":0.86},{"w":6050,"f":0.76},{"w":6100,"f":0.85},{"w":6150,"f":0.76},{"w":6200,"f":0.85},{"w":6250,"f":0.75},{"w":6300,"f":0.84},{"w":6350,"f":0.74},{"w":6400,"f":0.83},{"w":6450,"f":0.73},{"w":6500,"f":0.82},{"w":6550,"f":0.72},{"w":6600,"f":0.8},{"w":6650,"f":0.7},{"w":6700,"f":0.77},{"w":6750,"f":0.66},{"w":6800,"f":0.74},{"w":6850,"f":0.64},{"w":6900,"f":0.72},{"w":6950,"f":0.62},{"w":7000,"f":0.7},{"w":7050,"f":0.6},{"w":7100,"f":0.69},{"w":7150,"f":0.58},{"w":7200,"f":0.68},{"w":7250,"f":0.57},{"w":7300,"f":0.67},{"w":7350,"f":0.56},{"w":7400,"f":0.67},{"w":7450,"f":0.55},{"w":7500,"f":0.66},{"w":7550,"f":0.55},{"w":7600,"f":0.65},{"w":7650,"f":0.54},{"w":7700,"f":0.65},{"w":7750,"f":0.53},{"w":7800,"f":0.64},{"w":7850,"f":0.52},{"w":7900,"f":0.64},{"w":7950,"f":0.52},{"w":8000,"f":0.66},{"w":8050,"f":0.5},{"w":8100,"f":0.65},{"w":8150,"f":0.48},{"w":8200,"f":0.67},{"w":8250,"f":0.46},{"w":8300,"f":0.7},{"w":8340,"f":0.4},{"w":8380,"f":0.72},{"w":8420,"f":0.44},{"w":8460,"f":0.75},{"w":8500,"f":0.42},{"w":8540,"f":0.7},{"w":8580,"f":0.4},{"w":8620,"f":0.74},{"w":8660,"f":0.45},{"w":8700,"f":0.78},{"w":8740,"f":0.43},{"w":8780,"f":0.7},{"w":8820,"f":0.38},{"w":8860,"f":0.72},{"w":8900,"f":0.44},{"w":8940,"f":0.68},{"w":8980,"f":0.4},{"w":9020,"f":0.66},{"w":9060,"f":0.42},{"w":9100,"f":0.6},{"w":9140,"f":0.35},{"w":9180,"f":0.38},{"w":9215,"f":0.33}],
"dg": [{"w":3800,"f":0.9},{"w":3830,"f":0.79},{"w":3860,"f":0.85},{"w":3890,"f":0.78},{"w":3920,"f":0.88},{"w":3950,"f":0.8},{"w":3980,"f":0.91},{"w":4010,"f":0.83},{"w":4040,"f":0.88},{"w":4070,"f":0.78},{"w":4100,"f":0.86},{"w":4130,"f":0.77},{"w":4160,"f":0.89},{"w":4190,"f":0.8},{"w":4220,"f":0.9},{"w":4250,"f":0.83},{"w":4280,"f":0.87},{"w":4310,"f":0.78},{"w":4340,"f":0.9},{"w":4370,"f":0.81},{"w":4400,"f":0.86},{"w":4430,"f":0.8},{"w":4460,"f":0.92},{"w":4490,"f":0.82},{"w":4520,"f":0.9},{"w":4550,"f":0.8},{"w":4580,"f":0.89},{"w":4610,"f":0.84},{"w":4640,"f":0.93},{"w":4670,"f":0.8},{"w":4700,"f":0.92},{"w":4730,"f":0.85},{"w":4760,"f":0.95},{"w":4790,"f":0.82},{"w":4820,"f":0.89},{"w":4850,"f":0.84},{"w":4880,"f":0.95},{"w":4910,"f":0.82},{"w":4940,"f":0.92},{"w":4970,"f":0.87},{"w":5000,"f":0.96},{"w":5030,"f":0.85},{"w":5060,"f":0.91},{"w":5090,"f":0.84},{"w":5120,"f":0.95},{"w":5150,"f":0.87},{"w":5180,"f":0.98},{"w":5210,"f":0.9},{"w":5240,"f":0.95},{"w":5270,"f":0.86},{"w":5300,"f":0.94},{"w":5330,"f":0.85},{"w":5360,"f":0.97},{"w":5390,"f":0.88},{"w":5420,"f":0.98},{"w":5450,"f":0.92},{"w":5480,"f":0.95},{"w":5510,"f":0.86},{"w":5540,"f":0.99},{"w":5570,"f":0.9},{"w":5575,"f":0.56},{"w":5580,"f":0.92},{"w":5600,"f":0.94},{"w":5630,"f":0.88},{"w":5660,"f":1.03},{"w":5690,"f":0.84},{"w":5720,"f":0.96},{"w":5750,"f":0.88},{"w":5780,"f":1.03},{"w":5810,"f":0.84},{"w":5840,"f":0.98},{"w":5870,"f":0.91},{"w":5900,"f":1.02},{"w":5930,"f":0.87},{"w":5960,"f":0.95},{"w":5990,"f":0.85},{"w":6020,"f":1.0},{"w":6050,"f":0.89},{"w":6080,"f":1.04},{"w":6110,"f":0.92},{"w":6140,"f":0.99},{"w":6170,"f":0.86},{"w":6200,"f":0.97},{"w":6230,"f":0.84},{"w":6260,"f":1.0},{"w":6290,"f":0.87},{"w":6320,"f":1.02},{"w":6350,"f":0.92},{"w":6380,"f":0.97},{"w":6410,"f":0.83},{"w":6440,"f":1.0},{"w":6470,"f":0.88},{"w":6500,"f":0.93},{"w":6530,"f":0.84},{"w":6560,"f":1.01},{"w":6590,"f":0.86},{"w":6620,"f":0.97},{"w":6650,"f":0.83},{"w":6680,"f":0.94},{"w":6710,"f":0.88},{"w":6740,"f":1.0},{"w":6770,"f":0.81},{"w":6800,"f":0.98},{"w":6830,"f":0.87},{"w":6860,"f":1.02},{"w":6890,"f":0.83},{"w":6920,"f":0.94},{"w":6950,"f":0.86},{"w":6980,"f":1.01},{"w":7010,"f":0.82},{"w":7040,"f":0.96},{"w":7070,"f":0.9},{"w":7100,"f":1.01},{"w":7130,"f":0.86},{"w":7160,"f":0.94},{"w":7190,"f":0.84},{"w":7220,"f":0.99},{"w":7250,"f":0.88},{"w":7280,"f":1.03},{"w":7310,"f":0.91},{"w":7340,"f":0.99},{"w":7370,"f":0.86},{"w":7400,"f":0.97},{"w":7430,"f":0.84},{"w":7460,"f":1.01},{"w":7490,"f":0.89},{"w":7515,"f":1.13},{"w":7540,"f":0.93},{"w":7565,"f":1.03},{"w":7590,"f":0.78},{"w":7615,"f":1.12},{"w":7640,"f":0.88},{"w":7665,"f":1.0},{"w":7690,"f":0.82},{"w":7715,"f":1.16},{"w":7740,"f":0.86},{"w":7765,"f":1.08},{"w":7790,"f":0.81},{"w":7815,"f":1.03},{"w":7840,"f":0.91},{"w":7865,"f":1.15},{"w":7890,"f":0.77},{"w":7915,"f":1.11},{"w":7940,"f":0.89},{"w":7965,"f":1.17},{"w":7990,"f":0.79},{"w":8015,"f":1.01},{"w":8040,"f":0.85},{"w":8065,"f":1.15},{"w":8090,"f":0.77},{"w":8115,"f":1.05},{"w":8140,"f":0.91},{"w":8165,"f":1.13},{"w":8190,"f":0.83},{"w":8215,"f":0.99},{"w":8240,"f":0.79},{"w":8265,"f":1.17},{"w":8290,"f":0.79},{"w":8315,"f":1.31},{"w":8336,"f":1.42},{"w":8345,"f":0.86},{"w":8360,"f":0.22},{"w":8375,"f":1.24},{"w":8400,"f":0.67},{"w":8425,"f":1.05},{"w":8450,"f":0.85},{"w":8475,"f":1.26},{"w":8500,"f":0.6},{"w":8525,"f":1.19},{"w":8550,"f":0.8},{"w":8575,"f":1.29},{"w":8600,"f":0.62},{"w":8625,"f":1.0},{"w":8650,"f":0.72},{"w":8675,"f":1.25},{"w":8700,"f":0.57},{"w":8725,"f":1.06},{"w":8750,"f":0.81},{"w":8775,"f":1.19},{"w":8800,"f":0.65},{"w":8825,"f":1.08},{"w":8850,"f":0.62},{"w":8870,"f":0.09},{"w":8880,"f":0.99},{"w":8905,"f":0.79},{"w":8930,"f":1.2},{"w":8955,"f":0.52},{"w":8975,"f":1.16},{"w":8989,"f":1.63},{"w":9000,"f":0.65},{"w":9025,"f":1.04},{"w":9050,"f":0.55},{"w":9075,"f":1.17},{"w":9100,"f":0.49},{"w":9125,"f":0.95},{"w":9150,"f":0.59},{"w":9170,"f":1.08},{"w":9185,"f":2.75},{"w":9195,"f":0.5},{"w":9215,"f":0.7}]
},
"columns": 2,
"spacing": 0,
"bounds": "flush",
"concat": [
{"width": 360, "height": 167,
 "layer": [
  {"data": {"name": "ar"}, "mark": {"type": "line", "color": "#ff0000", "strokeWidth": 1, "clip": true},
   "encoding": {
    "x": {"field": "w", "type": "quantitative", "scale": {"domain": [3800, 9215], "nice": false, "zero": false},
     "axis": {"orient": "bottom", "values": [3800,3900,4000,4100,4200,4300,4400,4500,4600,4700,4800,4900,5000,5100,5200,5300,5400,5500,5600,5700,5800,5900,6000,6100,6200,6300,6400,6500,6600,6700,6800,6900,7000,7100,7200,7300,7400,7500,7600,7700,7800,7900,8000,8100,8200,8300,8400,8500,8600,8700,8800,8900,9000,9100,9200], "labels": false, "tickSize": {"condition": {"test": "datum.value % 1000 === 0", "value": -8}, "value": -4}, "title": null}},
    "y": {"field": "f", "type": "quantitative", "scale": {"domain": [0, 45.3], "nice": false, "zero": false},
     "axis": {"orient": "left", "values": [0,2,4,6,8,10,12,14,16,18,20,22,24,26,28,30,32,34,36,38,40,42,44], "format": "d", "labelExpr": "datum.value % 10 === 0 && datum.value > 0 ? datum.label : ''", "labelPadding": 11, "tickSize": {"condition": {"test": "datum.value % 10 === 0", "value": -8}, "value": -4}, "title": null}}}},
  {"data": {"name": "ak"}, "mark": {"type": "line", "color": "#000000", "strokeWidth": 1, "clip": true},
   "encoding": {
    "x": {"field": "w", "type": "quantitative",
     "axis": {"orient": "top", "values": [3800,3900,4000,4100,4200,4300,4400,4500,4600,4700,4800,4900,5000,5100,5200,5300,5400,5500,5600,5700,5800,5900,6000,6100,6200,6300,6400,6500,6600,6700,6800,6900,7000,7100,7200,7300,7400,7500,7600,7700,7800,7900,8000,8100,8200,8300,8400,8500,8600,8700,8800,8900,9000,9100,9200], "labels": false, "tickSize": {"condition": {"test": "datum.value % 1000 === 0", "value": -8}, "value": -4}, "title": null}},
    "y": {"field": "f", "type": "quantitative",
     "axis": {"orient": "right", "values": [0,2,4,6,8,10,12,14,16,18,20,22,24,26,28,30,32,34,36,38,40,42,44], "labels": false, "tickSize": {"condition": {"test": "datum.value % 10 === 0", "value": -8}, "value": -4}, "title": null}}}},
  {"data": {"values": [{}]}, "mark": {"type": "text", "text": "(a)", "align": "left", "baseline": "alphabetic", "color": "#000"},
   "encoding": {"x": {"datum": 3956, "type": "quantitative", "axis": null}, "y": {"datum": 39.6, "type": "quantitative", "axis": null}}},
  {"data": {"values": [{}]}, "mark": {"type": "text", "text": "SDSS J112837.73−000112.5", "align": "left", "baseline": "alphabetic", "color": "#000"},
   "encoding": {"x": {"datum": 5697, "type": "quantitative", "axis": null}, "y": {"datum": 39.0, "type": "quantitative", "axis": null}}}
 ],
 "resolve": {"axis": {"x": "independent", "y": "independent"}}},
{"width": 360, "height": 167,
 "layer": [
  {"data": {"name": "ck"}, "mark": {"type": "line", "color": "#000000", "strokeWidth": 1, "clip": true},
   "encoding": {
    "x": {"field": "w", "type": "quantitative", "scale": {"domain": [3800, 9215], "nice": false, "zero": false},
     "axis": {"orient": "bottom", "values": [3800,3900,4000,4100,4200,4300,4400,4500,4600,4700,4800,4900,5000,5100,5200,5300,5400,5500,5600,5700,5800,5900,6000,6100,6200,6300,6400,6500,6600,6700,6800,6900,7000,7100,7200,7300,7400,7500,7600,7700,7800,7900,8000,8100,8200,8300,8400,8500,8600,8700,8800,8900,9000,9100,9200], "labels": false, "tickSize": {"condition": {"test": "datum.value % 1000 === 0", "value": -8}, "value": -4}, "title": null}},
    "y": {"field": "f", "type": "quantitative", "scale": {"domain": [0, 45.3], "nice": false, "zero": false},
     "axis": {"orient": "left", "values": [0,2,4,6,8,10,12,14,16,18,20,22,24,26,28,30,32,34,36,38,40,42,44], "labels": false, "tickSize": {"condition": {"test": "datum.value % 10 === 0", "value": -8}, "value": -4}, "title": null}}}},
  {"data": {"name": "cr"}, "mark": {"type": "line", "color": "#ff0000", "strokeWidth": 1, "clip": true},
   "encoding": {
    "x": {"field": "w", "type": "quantitative",
     "axis": {"orient": "top", "values": [3800,3900,4000,4100,4200,4300,4400,4500,4600,4700,4800,4900,5000,5100,5200,5300,5400,5500,5600,5700,5800,5900,6000,6100,6200,6300,6400,6500,6600,6700,6800,6900,7000,7100,7200,7300,7400,7500,7600,7700,7800,7900,8000,8100,8200,8300,8400,8500,8600,8700,8800,8900,9000,9100,9200], "labels": false, "tickSize": {"condition": {"test": "datum.value % 1000 === 0", "value": -8}, "value": -4}, "title": null}},
    "y": {"field": "f", "type": "quantitative",
     "axis": {"orient": "right", "values": [0,2,4,6,8,10,12,14,16,18,20,22,24,26,28,30,32,34,36,38,40,42,44], "labels": false, "tickSize": {"condition": {"test": "datum.value % 10 === 0", "value": -8}, "value": -4}, "title": null}}}},
  {"data": {"values": [{}]}, "mark": {"type": "text", "text": "(c)", "align": "left", "baseline": "alphabetic", "color": "#000"},
   "encoding": {"x": {"datum": 3916, "type": "quantitative", "axis": null}, "y": {"datum": 39.6, "type": "quantitative", "axis": null}}},
  {"data": {"values": [{}]}, "mark": {"type": "text", "text": "SDSS J112640.14+002347.0", "align": "left", "baseline": "alphabetic", "color": "#000"},
   "encoding": {"x": {"datum": 5660, "type": "quantitative", "axis": null}, "y": {"datum": 39.0, "type": "quantitative", "axis": null}}}
 ],
 "resolve": {"axis": {"x": "independent", "y": "independent"}}},
{"width": 360, "height": 167,
 "layer": [
  {"data": {"name": "bk"}, "mark": {"type": "line", "color": "#000000", "strokeWidth": 1, "clip": true},
   "encoding": {
    "x": {"field": "w", "type": "quantitative", "scale": {"domain": [3800, 9215], "nice": false, "zero": false},
     "axis": {"orient": "bottom", "values": [3800,3900,4000,4100,4200,4300,4400,4500,4600,4700,4800,4900,5000,5100,5200,5300,5400,5500,5600,5700,5800,5900,6000,6100,6200,6300,6400,6500,6600,6700,6800,6900,7000,7100,7200,7300,7400,7500,7600,7700,7800,7900,8000,8100,8200,8300,8400,8500,8600,8700,8800,8900,9000,9100,9200], "format": "d", "labelExpr": "datum.value % 1000 === 0 ? datum.label : ''", "labelPadding": 15, "tickSize": {"condition": {"test": "datum.value % 1000 === 0", "value": -8}, "value": -4},
      "title": "Wavelength (Å)", "titleFontSize": 15, "titleX": 360, "titleY": 28, "titleAlign": "center", "titleBaseline": "alphabetic"}},
    "y": {"field": "f", "type": "quantitative", "scale": {"domain": [-0.31, 15.1], "nice": false, "zero": false},
     "axis": {"orient": "left", "values": [0,0.5,1,1.5,2,2.5,3,3.5,4,4.5,5,5.5,6,6.5,7,7.5,8,8.5,9,9.5,10,10.5,11,11.5,12,12.5,13,13.5,14,14.5,15], "format": "d", "labelExpr": "datum.value % 2 === 0 ? datum.label : ''", "labelPadding": 11, "tickSize": {"condition": {"test": "datum.value % 2 === 0", "value": -8}, "value": -4},
      "title": "Flux (10⁻¹⁷erg s⁻¹ cm⁻² Å⁻¹)", "titleX": -40.6, "titleY": -11, "titleAngle": -90, "titleAlign": "center", "titleBaseline": "middle"}}}},
  {"data": {"name": "br"}, "mark": {"type": "line", "color": "#ff0000", "strokeWidth": 1, "clip": true},
   "encoding": {
    "x": {"field": "w", "type": "quantitative",
     "axis": {"orient": "top", "values": [3800,3900,4000,4100,4200,4300,4400,4500,4600,4700,4800,4900,5000,5100,5200,5300,5400,5500,5600,5700,5800,5900,6000,6100,6200,6300,6400,6500,6600,6700,6800,6900,7000,7100,7200,7300,7400,7500,7600,7700,7800,7900,8000,8100,8200,8300,8400,8500,8600,8700,8800,8900,9000,9100,9200], "labels": false, "tickSize": {"condition": {"test": "datum.value % 1000 === 0", "value": -8}, "value": -4}, "title": null}},
    "y": {"field": "f", "type": "quantitative",
     "axis": {"orient": "right", "values": [0,0.5,1,1.5,2,2.5,3,3.5,4,4.5,5,5.5,6,6.5,7,7.5,8,8.5,9,9.5,10,10.5,11,11.5,12,12.5,13,13.5,14,14.5,15], "labels": false, "tickSize": {"condition": {"test": "datum.value % 2 === 0", "value": -8}, "value": -4}, "title": null}}}},
  {"data": {"values": [{}]}, "mark": {"type": "text", "text": "(b)", "align": "left", "baseline": "alphabetic", "color": "#000"},
   "encoding": {"x": {"datum": 3956, "type": "quantitative", "axis": null}, "y": {"datum": 13.4, "type": "quantitative", "axis": null}}},
  {"data": {"values": [{}]}, "mark": {"type": "text", "text": "SDSS J112820.43−000636.8", "align": "left", "baseline": "alphabetic", "color": "#000"},
   "encoding": {"x": {"datum": 5697, "type": "quantitative", "axis": null}, "y": {"datum": 13.23, "type": "quantitative", "axis": null}}}
 ],
 "resolve": {"axis": {"x": "independent", "y": "independent"}}},
{"width": 360, "height": 167,
 "layer": [
  {"data": {"name": "dc"}, "mark": {"type": "line", "color": "#00c8ff", "strokeWidth": 1, "clip": true},
   "encoding": {
    "x": {"field": "w", "type": "quantitative", "scale": {"domain": [3800, 9215], "nice": false, "zero": false},
     "axis": {"orient": "bottom", "values": [3800,3900,4000,4100,4200,4300,4400,4500,4600,4700,4800,4900,5000,5100,5200,5300,5400,5500,5600,5700,5800,5900,6000,6100,6200,6300,6400,6500,6600,6700,6800,6900,7000,7100,7200,7300,7400,7500,7600,7700,7800,7900,8000,8100,8200,8300,8400,8500,8600,8700,8800,8900,9000,9100,9200], "format": "d", "labelExpr": "datum.value % 1000 === 0 ? datum.label : ''", "labelPadding": 15, "tickSize": {"condition": {"test": "datum.value % 1000 === 0", "value": -8}, "value": -4}, "title": null}},
    "y": {"field": "f", "type": "quantitative", "scale": {"domain": [-0.06, 3.07], "nice": false, "zero": false},
     "axis": {"orient": "left", "values": [0,0.2,0.4,0.6,0.8,1,1.2,1.4,1.6,1.8,2,2.2,2.4,2.6,2.8,3], "labels": false, "tickSize": {"condition": {"test": "datum.value % 1 === 0", "value": -8}, "value": -4}, "title": null}}}},
  {"data": {"name": "db"}, "mark": {"type": "line", "color": "#1a30f0", "strokeWidth": 1, "clip": true},
   "encoding": {
    "x": {"field": "w", "type": "quantitative",
     "axis": {"orient": "top", "values": [3800,3900,4000,4100,4200,4300,4400,4500,4600,4700,4800,4900,5000,5100,5200,5300,5400,5500,5600,5700,5800,5900,6000,6100,6200,6300,6400,6500,6600,6700,6800,6900,7000,7100,7200,7300,7400,7500,7600,7700,7800,7900,8000,8100,8200,8300,8400,8500,8600,8700,8800,8900,9000,9100,9200], "labels": false, "tickSize": {"condition": {"test": "datum.value % 1000 === 0", "value": -8}, "value": -4}, "title": null}},
    "y": {"field": "f", "type": "quantitative",
     "axis": {"orient": "right", "values": [0,1,2,3], "format": "d", "labelPadding": 14, "tickSize": -8,
      "title": "Flux Ratio", "titleFontSize": 15, "titleX": 38, "titleY": 83.5, "titleAngle": 90, "titleAlign": "center", "titleBaseline": "middle"}}}},
  {"data": {"name": "dg"}, "mark": {"type": "line", "color": "#14e87a", "strokeWidth": 1, "clip": true},
   "encoding": {"x": {"field": "w", "type": "quantitative", "axis": null},
    "y": {"field": "f", "type": "quantitative", "axis": {"orient": "right", "values": [0.2,0.4,0.6,0.8,1.2,1.4,1.6,1.8,2.2,2.4,2.6,2.8], "labels": false, "tickSize": -4, "title": null}}}},
  {"data": {"values": [{}]}, "mark": {"type": "text", "text": "(d)", "align": "left", "baseline": "alphabetic", "color": "#000"},
   "encoding": {"x": {"datum": 3916, "type": "quantitative", "axis": null}, "y": {"datum": 2.73, "type": "quantitative", "axis": null}}},
  {"data": {"values": [{}]}, "mark": {"type": "text", "text": "SDSS J112837.73−000112.5", "align": "left", "baseline": "alphabetic", "color": "#1a30f0", "fontSize": 14.5},
   "encoding": {"x": {"datum": 5645, "type": "quantitative", "axis": null}, "y": {"datum": 2.695, "type": "quantitative", "axis": null}}},
  {"data": {"values": [{}]}, "mark": {"type": "text", "text": "SDSS J112820.43−000636.8", "align": "left", "baseline": "alphabetic", "color": "#00c8ff", "fontSize": 14.5},
   "encoding": {"x": {"datum": 5645, "type": "quantitative", "axis": null}, "y": {"datum": 2.42, "type": "quantitative", "axis": null}}},
  {"data": {"values": [{}]}, "mark": {"type": "text", "text": "SDSS J112640.14+002347.0", "align": "left", "baseline": "alphabetic", "color": "#14e87a", "fontSize": 14.5},
   "encoding": {"x": {"datum": 5645, "type": "quantitative", "axis": null}, "y": {"datum": 2.15, "type": "quantitative", "axis": null}}}
 ],
 "resolve": {"axis": {"x": "independent", "y": "independent"}}}
]
}
